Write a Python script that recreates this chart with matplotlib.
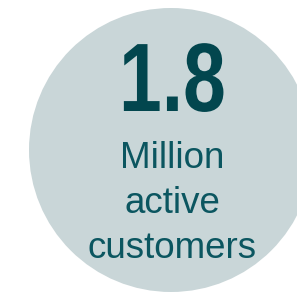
import matplotlib.pyplot as plt
import matplotlib.patheffects as pe
from matplotlib.patches import Circle
from matplotlib.transforms import Affine2D

# data
value = "1.8"
caption_lines = ["Million", "active", "customers"]

circle_color = "#c9d6d8"
value_color = "#02464e"
caption_color = "#0b5660"


# squeeze the glyphs sideways, the big number is set in a narrow face
class Squeeze(pe.AbstractPathEffect):
    def __init__(self, sx, cx):
        super().__init__()
        self.sx = sx
        self.cx = cx

    def draw_path(self, renderer, gc, tpath, affine, rgbFace=None):
        t = affine + Affine2D().translate(-self.cx, 0).scale(self.sx, 1).translate(self.cx, 0)
        renderer.draw_path(gc, tpath, t, rgbFace)


fig = plt.figure(figsize=(2.97, 2.92), dpi=100)
ax = fig.add_axes([0, 0, 1, 1])
ax.set_xlim(0, 297)
ax.set_ylim(292, 0)
ax.axis("off")

ax.add_patch(Circle((171, 150), 142, color=circle_color, lw=0))

ax.text(172.5, 111, value, ha="center", va="baseline", fontsize=70,
        fontweight="bold", color=value_color,
        family=["Liberation Sans", "DejaVu Sans"],
        path_effects=[Squeeze(0.79, 172.5)])

for i, line in enumerate(caption_lines):
    ax.text(172, 168 + 45 * i, line, ha="center", va="baseline", fontsize=26.5,
            color=caption_color, family=["Liberation Sans", "DejaVu Sans"])

fig.savefig("out.png", dpi=100)
